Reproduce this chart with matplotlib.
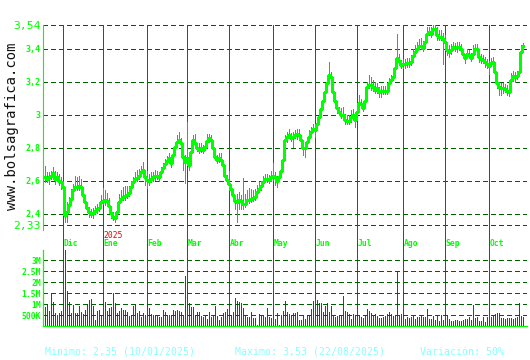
import numpy as np
import matplotlib
matplotlib.use("Agg")
import matplotlib.pyplot as plt

# daily closes, one value per trading day (mid Nov 2024 -> late Oct 2025)
close = [
    2.620, 2.610, 2.620, 2.630, 2.645, 2.610, 2.620, 2.600, 2.590, 2.560,
    2.390, 2.410, 2.450, 2.490, 2.540, 2.560, 2.560, 2.565, 2.560, 2.510,
    2.470, 2.435, 2.410, 2.400, 2.405, 2.415, 2.425, 2.435, 2.470, 2.475,
    2.480, 2.475, 2.445, 2.405, 2.380, 2.370, 2.410, 2.470, 2.490, 2.500,
    2.505, 2.515, 2.525, 2.560, 2.590, 2.610, 2.615, 2.630, 2.650, 2.665,
    2.620, 2.605, 2.600, 2.610, 2.620, 2.625, 2.630, 2.620, 2.650, 2.675,
    2.700, 2.720, 2.735, 2.705, 2.755, 2.805, 2.835, 2.845, 2.825, 2.745,
    2.715, 2.735, 2.695, 2.775, 2.845, 2.830, 2.800, 2.785, 2.795, 2.785,
    2.805, 2.840, 2.855, 2.845, 2.795, 2.745, 2.725, 2.735, 2.725, 2.695,
    2.630, 2.605, 2.580, 2.550, 2.510, 2.475, 2.470, 2.480, 2.475, 2.455,
    2.460, 2.480, 2.485, 2.490, 2.495, 2.500, 2.530, 2.550, 2.565, 2.590,
    2.610, 2.610, 2.605, 2.620, 2.625, 2.620, 2.600, 2.620, 2.655, 2.725,
    2.845, 2.865, 2.875, 2.860, 2.865, 2.875, 2.880, 2.875, 2.845, 2.795,
    2.795, 2.835, 2.865, 2.895, 2.915, 2.905, 2.940, 2.985, 3.035, 3.085,
    3.135, 3.190, 3.240, 3.230, 3.135, 3.085, 3.040, 3.015, 3.000, 2.995,
    2.965, 2.960, 2.960, 2.985, 2.995, 2.965, 3.015, 3.070, 3.065, 3.040,
    3.085, 3.170, 3.180, 3.180, 3.170, 3.150, 3.160, 3.135, 3.145, 3.145,
    3.145, 3.145, 3.190, 3.210, 3.230, 3.280, 3.340, 3.325, 3.300, 3.305,
    3.305, 3.310, 3.310, 3.320, 3.355, 3.380, 3.400, 3.415, 3.415, 3.405,
    3.440, 3.490, 3.500, 3.490, 3.520, 3.520, 3.480, 3.470, 3.470, 3.455,
    3.440, 3.390, 3.380, 3.390, 3.410, 3.405, 3.410, 3.410, 3.400, 3.370,
    3.340, 3.365, 3.360, 3.345, 3.370, 3.400, 3.400, 3.350, 3.335, 3.330,
    3.320, 3.305, 3.295, 3.315, 3.320, 3.260, 3.190, 3.170, 3.160, 3.160,
    3.155, 3.140, 3.135, 3.210, 3.235, 3.230, 3.235, 3.260, 3.380, 3.415,
]

# daily high above close / low below close, in cents
hi_c = [
    7, 4, 3, 3, 4, 5, 3, 4, 3, 4,
    10, 6, 5, 6, 4, 7, 6, 6, 5, 4,
    3, 3, 3, 3, 3, 3, 3, 3, 4, 8,
    6, 5, 5, 4, 3, 3, 4, 5, 5, 6,
    6, 5, 4, 4, 3, 4, 5, 4, 4, 5,
    4, 5, 4, 4, 3, 4, 3, 3, 3, 3,
    3, 3, 3, 3, 3, 3, 4, 5, 3, 4,
    4, 22, 5, 4, 3, 5, 3, 4, 3, 3,
    3, 4, 3, 3, 3, 3, 3, 3, 4, 3,
    3, 3, 8, 3, 4, 3, 5, 5, 4, 16,
    6, 6, 7, 6, 5, 5, 4, 4, 3, 4,
    3, 3, 3, 4, 8, 3, 3, 4, 3, 6,
    3, 3, 4, 3, 3, 3, 3, 4, 3, 3,
    3, 3, 4, 3, 3, 3, 3, 3, 4, 4,
    4, 4, 8, 3, 4, 3, 3, 3, 4, 5,
    4, 4, 4, 4, 4, 4, 4, 5, 3, 3,
    4, 3, 6, 5, 4, 5, 3, 3, 3, 3,
    3, 3, 3, 3, 3, 3, 15, 4, 3, 3,
    3, 3, 3, 4, 4, 4, 4, 4, 5, 4,
    4, 4, 3, 4, 3, 2, 5, 4, 4, 4,
    4, 3, 4, 4, 3, 3, 3, 3, 3, 3,
    3, 3, 3, 3, 5, 3, 3, 4, 3, 3,
    3, 3, 3, 3, 3, 3, 3, 3, 3, 3,
    3, 4, 3, 4, 3, 3, 3, 5, 4, 2,
]
lo_c = [
    3, 2, 4, 2, 2, 3, 2, 3, 4, 5,
    4, 6, 4, 3, 3, 2, 2, 2, 2, 3,
    3, 2, 3, 2, 3, 2, 2, 2, 2, 2,
    3, 3, 4, 3, 2, 2, 2, 2, 2, 2,
    2, 2, 2, 2, 2, 2, 2, 2, 2, 3,
    5, 5, 3, 2, 2, 2, 2, 2, 2, 2,
    2, 2, 2, 2, 2, 2, 2, 2, 2, 8,
    13, 4, 3, 2, 2, 2, 2, 2, 2, 2,
    2, 2, 2, 2, 2, 2, 2, 2, 3, 4,
    2, 2, 4, 2, 3, 5, 12, 5, 5, 3,
    2, 2, 2, 2, 2, 2, 2, 2, 2, 2,
    2, 2, 2, 2, 2, 5, 4, 2, 2, 2,
    4, 3, 2, 2, 6, 2, 3, 2, 2, 4,
    5, 3, 3, 2, 2, 4, 3, 3, 2, 2,
    2, 2, 2, 3, 3, 3, 3, 2, 2, 2,
    2, 2, 2, 3, 2, 4, 3, 2, 2, 2,
    2, 2, 2, 3, 3, 2, 3, 3, 4, 2,
    2, 2, 3, 2, 2, 2, 3, 2, 2, 2,
    2, 2, 2, 2, 3, 2, 2, 2, 2, 2,
    2, 2, 2, 2, 2, 2, 3, 2, 2, 15,
    3, 3, 3, 2, 2, 2, 3, 2, 2, 3,
    3, 2, 2, 2, 2, 2, 2, 3, 2, 2,
    3, 2, 5, 2, 2, 2, 3, 5, 4, 3,
    2, 2, 2, 2, 3, 3, 2, 2, 2, 2,
]

# daily volume, millions of shares
volume_m = [
    0.88, 0.95, 0.70, 1.52, 1.10, 0.60, 0.50, 0.58, 0.70, 0.88,
    3.50, 1.60, 1.10, 0.58, 0.95, 0.58, 0.58, 0.90, 0.65, 0.55,
    0.73, 0.95, 1.20, 1.25, 0.90, 0.27, 0.70, 0.73, 0.45, 0.58,
    1.10, 0.70, 0.80, 0.88, 1.52, 1.03, 0.58, 0.70, 0.80, 0.73,
    0.73, 0.65, 0.45, 0.45, 0.90, 0.95, 0.60, 0.70, 0.40, 0.58,
    0.50, 1.03, 0.80, 0.55, 0.50, 0.50, 0.45, 0.42, 0.42, 0.73,
    0.65, 0.45, 0.50, 0.50, 0.73, 0.70, 0.73, 0.70, 0.65, 0.50,
    2.27, 1.67, 1.03, 0.88, 0.88, 0.50, 0.65, 0.65, 0.45, 0.42,
    0.50, 0.30, 0.65, 0.42, 0.45, 0.90, 0.45, 0.27, 0.42, 0.60,
    0.65, 0.76, 0.55, 0.50, 0.65, 1.26, 1.15, 1.10, 1.03, 0.80,
    0.45, 0.42, 0.42, 0.65, 0.35, 0.35, 0.05, 0.55, 0.45, 0.45,
    0.40, 0.80, 0.42,
    0.35, 0.45, 0.30, 0.58, 0.05, 0.50, 0.70, 1.14, 0.65, 0.55,
    0.45, 0.58, 0.61, 0.65, 0.27, 0.27, 0.45, 0.30, 0.45, 0.45,
    0.77, 1.14, 0.42, 1.18, 1.06, 1.03, 0.65, 0.91, 1.03, 0.65,
    0.91, 0.45, 0.42, 0.45, 0.50, 0.50, 1.36, 0.70, 0.65, 0.55,
    0.30, 0.55, 0.50, 0.45, 0.45, 0.42, 0.35, 0.45, 0.77, 0.70,
    0.61, 0.50, 0.55, 0.45, 0.35, 0.35, 0.39, 0.45, 0.55, 0.65,
    0.55, 0.45, 0.50, 2.48, 0.50, 0.55, 0.58, 0.32, 0.39, 0.35,
    0.42, 0.50, 0.32, 0.39, 0.42, 0.45, 0.42, 0.39, 0.77, 0.32,
    0.32, 0.45, 0.27, 0.50, 0.24, 0.50, 0.27, 0.35, 0.45, 0.30,
    0.24, 0.24, 0.27, 0.27, 0.24, 0.24, 0.27, 0.30, 0.30, 0.39,
    0.27, 0.95, 0.35, 0.39, 0.24, 0.24, 0.39, 0.20, 0.39, 0.30,
    0.39, 0.45, 0.55, 0.61, 0.61, 0.35, 0.35, 0.30, 0.35, 0.35,
    0.35, 0.30, 0.35, 0.39, 1.03, 0.45, 0.42,
]

# month labels and the trading-day index where each month starts
months = ["Dic", "Ene", "Feb", "Mar", "Abr", "May", "Jun", "Jul", "Ago", "Sep", "Oct"]
month_start = [9, 29, 51, 71, 92, 114, 135, 156, 179, 200, 222]

price_ticks = [2.33, 2.4, 2.6, 2.8, 3.0, 3.2, 3.4, 3.54]
price_labels = ["2,33", "2,4", "2,6", "2,8", "3", "3,2", "3,4", "3,54"]
vol_ticks = [0.5, 1.0, 1.5, 2.0, 2.5, 3.0]
vol_labels = ["500K", "1M", "1.5M", "2M", "2.5M", "3M"]

plt.rcParams["lines.scale_dashes"] = False
MONO = "DejaVu Sans Mono"
GREEN = "#00ff00"
GRID = "#006000"
MLINE = "#007a00"
DASH = (0, (3.2, 2.4))
THIN = 0.7  # one pixel at 100 dpi

close = np.array(close)
high = close + np.array(hi_c) / 100
low = close - np.array(lo_c) / 100
vol = np.array(volume_m) * 1e6
x = np.arange(len(close))

W, H = 530, 360
fig = plt.figure(figsize=(W / 100, H / 100), dpi=100)


def px_axes(left, top, right, bottom):
    return fig.add_axes([left / W, 1 - bottom / H, (right - left) / W, (bottom - top) / H])


# ---- price panel
ax = px_axes(43.3, 25.3, 527, 250)
ax.set_xlim(-1, 240.9)
ax.set_ylim(2.179, 3.541)

for t in price_ticks:
    ax.axhline(t, color=GRID, lw=THIN, ls=DASH, zorder=0, antialiased=False)
for m in month_start:
    ax.axvline(m, color=MLINE, lw=THIN, zorder=0.5, antialiased=False)

ax.vlines(x, low, high, color="#20a2b4", lw=THIN, zorder=2, antialiased=False)
ax.plot(x, close, color=GREEN, lw=1.0, drawstyle="steps-mid", zorder=3,
        antialiased=False)

ax.set_xticks([])
ax.set_yticks(price_ticks, price_labels)
ax.tick_params(axis="y", length=0, pad=2, colors=GREEN)
for lab in ax.get_yticklabels():
    if lab.get_text() in ("2,33", "3,54"):
        lab.set_fontsize(8.2)
        lab.set_fontfamily(MONO)
    else:
        lab.set_fontsize(6)
        lab.set_fontweight("bold")
        lab.set_fontfamily(MONO)

for s in ("top", "right", "bottom"):
    ax.spines[s].set_visible(False)
ax.spines["left"].set_color(GREEN)
ax.spines["left"].set_linewidth(0.8)
ax.spines["left"].set_bounds(2.299, 3.541)

for m, name in zip(month_start, months):
    ax.text(m + 0.2, 2.216, name, color=GREEN, fontsize=5.8, fontweight="bold",
            family=MONO, ha="left", va="center")
ax.text(month_start[1] + 0.2, 2.265, "2025", color="#ee0000", fontsize=5.8,
        family=MONO, ha="left", va="center")

# ---- volume panel
axv = px_axes(43.3, 250, 527, 326)
axv.set_xlim(-1, 240.9)
axv.set_ylim(0, 3.47e6)
axv.bar(x, vol, width=0.5, color="#dd0000", linewidth=0, zorder=1,
        antialiased=False)
for t in vol_ticks:
    axv.axhline(t * 1e6, color=GRID, lw=THIN, ls=DASH, zorder=2, antialiased=False)
for m in month_start:
    axv.axvline(m, color=MLINE, lw=THIN, zorder=0.5, antialiased=False)

axv.set_xticks([])
axv.set_yticks([t * 1e6 for t in vol_ticks], vol_labels)
axv.tick_params(axis="y", length=0, pad=1.5, colors=GREEN, labelsize=5.8)
for lab in axv.get_yticklabels():
    lab.set_fontweight("bold")
    lab.set_fontfamily(MONO)
for s in ("top", "right"):
    axv.spines[s].set_visible(False)
for s in ("left", "bottom"):
    axv.spines[s].set_color(GREEN)
    axv.spines[s].set_linewidth(0.9)

# ---- texts
fig.text(12 / W, 1 - 126 / H, "www.bolsagrafica.com", rotation=90, family=MONO,
         fontsize=10, color="#111111", ha="center", va="center")
foot = dict(family=MONO, fontsize=7.1, color="#88ffff", va="center", ha="left")
fig.text(45 / W, 1 - 352 / H, "Minimo: 2,35 (10/01/2025)", **foot)
fig.text(235 / W, 1 - 352 / H, "Maximo: 3,53 (22/08/2025)", **foot)
fig.text(420 / W, 1 - 352 / H, "Variación: 50%", **foot)

fig.savefig("out.png", dpi=100, facecolor="white")
